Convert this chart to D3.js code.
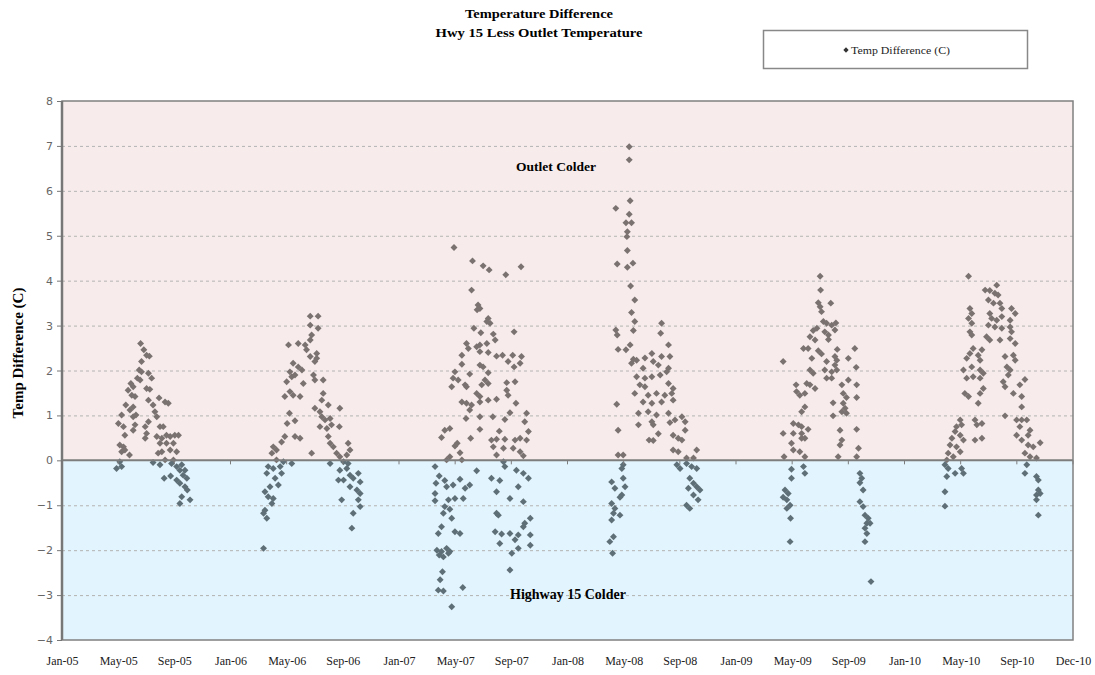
<!DOCTYPE html>
<html lang="en">
<head>
    <meta charset="utf-8">
    <script type="text/javascript" src="https://d3js.org/d3.v7.min.js"></script>
    <title>Temperature Difference</title>
    <style>body{margin:0;background:#fff;}</style>
</head>
<body>
<div class="chart"></div>
<script type="text/javascript">
    // axis labels
    var xLabels = ["Jan-05","May-05","Sep-05","Jan-06","May-06","Sep-06","Jan-07","May-07","Sep-07",
                   "Jan-08","May-08","Sep-08","Jan-09","May-09","Sep-09","Jan-10","May-10","Sep-10","Dec-10"];
    var yTicks = [-4,-3,-2,-1,0,1,2,3,4,5,6,7,8];
    var seriesName = "Temp Difference (C)";

    // [day of year, Hwy 15 minus outlet temperature (C)]
    var d2005 = [[170,2.60],[177,2.46],[183,2.34],[189,2.32],[172,2.20],[167,2.01],[172,1.97],[187,1.94],[194,1.83],[163,1.83],[169,1.79],[149,1.71],[154,1.64],[183,1.60],[190,1.58],[143,1.56],[151,1.45],[158,1.42],[210,1.39],[223,1.30],[230,1.27],[187,1.34],[197,1.23],[138,1.23],[147,1.12],[154,1.19],[201,1.08],[205,0.97],[129,1.01],[154,0.97],[160,1.01],[122,0.82],[133,0.75],[187,0.86],[212,0.75],[219,0.75],[158,0.79],[154,0.67],[180,0.75],[183,0.60],[180,0.49],[136,0.56],[205,0.53],[216,0.49],[226,0.56],[234,0.53],[244,0.56],[252,0.56],[125,0.34],[133,0.30],[129,0.19],[136,0.23],[212,0.38],[226,0.38],[241,0.38],[234,0.23],[208,0.16],[216,0.19],[248,0.19],[146,0.12],[223,0.01],[241,0.01],[125,-0.03],[197,-0.05],[212,-0.10],[118,-0.18],[129,-0.14],[237,-0.07],[248,-0.14],[259,-0.10],[255,-0.22],[266,-0.22],[262,-0.33],[270,-0.40],[221,-0.40],[235,-0.35],[248,-0.44],[255,-0.51],[266,-0.59],[271,-0.66],[259,-0.81],[277,-0.88],[255,-0.96]];
    var d2006 = [[172,3.21],[189,3.21],[172,3.01],[189,2.94],[175,2.79],[172,2.68],[125,2.57],[146,2.60],[161,2.57],[164,2.46],[186,2.38],[172,2.31],[182,2.20],[186,2.27],[135,2.16],[146,2.08],[154,2.01],[128,1.97],[132,1.86],[139,1.90],[179,1.90],[182,1.79],[200,1.79],[121,1.75],[157,1.71],[117,1.42],[128,1.53],[135,1.45],[150,1.42],[200,1.49],[197,1.34],[182,1.16],[193,1.08],[211,1.23],[236,1.16],[197,0.97],[204,0.90],[215,0.93],[127,1.05],[122,0.82],[139,0.88],[193,0.75],[208,0.71],[218,0.79],[235,0.75],[117,0.53],[110,0.41],[139,0.53],[150,0.49],[211,0.53],[215,0.38],[222,0.30],[92,0.30],[99,0.23],[89,0.16],[254,0.38],[258,0.23],[251,0.12],[175,0.16],[229,0.16],[236,0.08],[99,0.01],[114,-0.03],[132,-0.07],[215,-0.07],[244,-0.03],[254,-0.07],[81,-0.14],[92,-0.18],[78,-0.29],[107,-0.14],[110,-0.29],[236,-0.22],[251,-0.18],[258,-0.33],[233,-0.44],[244,-0.44],[265,-0.40],[276,-0.29],[280,-0.48],[96,-0.40],[103,-0.55],[85,-0.59],[258,-0.59],[273,-0.66],[280,-0.74],[74,-0.70],[81,-0.81],[92,-0.85],[89,-0.96],[240,-0.88],[276,-0.88],[280,-1.03],[74,-1.11],[71,-1.18],[78,-1.29],[265,-1.18],[262,-1.51],[71,-1.96]];
    var d2007 = [[118,4.74],[158,4.44],[181,4.33],[194,4.24],[230,4.13],[263,4.31],[156,3.79],[170,3.46],[174,3.38],[168,3.35],[192,3.16],[196,3.05],[189,3.09],[161,2.94],[176,2.84],[248,2.86],[203,2.81],[207,2.68],[145,2.60],[149,2.49],[167,2.53],[174,2.57],[189,2.60],[135,2.34],[174,2.42],[192,2.40],[210,2.32],[223,2.34],[245,2.34],[264,2.31],[235,2.20],[261,2.16],[248,2.08],[135,2.14],[174,2.12],[181,2.08],[120,1.97],[152,1.92],[192,1.95],[116,1.83],[127,1.79],[185,1.79],[142,1.68],[178,1.68],[192,1.71],[232,1.73],[250,1.75],[113,1.64],[145,1.64],[232,1.56],[235,1.45],[167,1.49],[174,1.42],[192,1.34],[135,1.30],[145,1.27],[156,1.23],[174,1.30],[210,1.36],[252,1.27],[152,1.12],[239,1.06],[275,1.05],[144,0.93],[174,0.97],[202,0.97],[228,0.91],[271,0.86],[279,0.64],[98,0.67],[109,0.71],[174,0.69],[216,0.65],[91,0.51],[154,0.49],[199,0.45],[210,0.47],[228,0.47],[250,0.45],[261,0.49],[275,0.45],[125,0.38],[120,0.32],[203,0.30],[225,0.27],[246,0.27],[131,0.17],[109,0.08],[210,0.12],[261,0.19],[268,0.10],[102,0.01],[135,0.01],[225,-0.03],[228,-0.14],[77,-0.14],[167,-0.23],[86,-0.35],[98,-0.45],[131,-0.42],[253,-0.22],[268,-0.29],[279,-0.40],[199,-0.40],[217,-0.45],[152,-0.55],[79,-0.51],[102,-0.59],[116,-0.55],[257,-0.59],[210,-0.70],[142,-0.62],[77,-0.74],[106,-0.88],[120,-0.85],[138,-0.85],[239,-0.85],[77,-0.90],[98,-1.03],[109,-1.09],[268,-0.92],[95,-1.18],[113,-1.29],[210,-1.18],[214,-1.22],[91,-1.48],[84,-1.63],[120,-1.59],[131,-1.63],[271,-1.40],[268,-1.48],[283,-1.29],[207,-1.59],[221,-1.64],[239,-1.63],[257,-1.66],[283,-1.66],[217,-1.85],[250,-1.77],[257,-1.96],[283,-1.89],[81,-2.00],[91,-2.03],[102,-1.96],[109,-2.03],[86,-2.11],[95,-2.15],[106,-2.07],[243,-2.07],[93,-2.48],[88,-2.66],[239,-2.44],[84,-2.89],[95,-2.91],[137,-2.83],[113,-3.26]];
    var d2008 = [[132,6.98],[132,6.69],[134,5.78],[103,5.61],[132,5.48],[125,5.29],[137,5.29],[128,5.09],[127,4.98],[128,4.67],[106,4.37],[128,4.30],[140,4.39],[135,3.88],[144,3.57],[137,3.29],[144,3.09],[202,3.05],[103,2.90],[106,2.79],[141,2.89],[200,2.83],[217,2.57],[134,2.57],[108,2.47],[125,2.46],[141,2.25],[148,2.23],[166,2.28],[181,2.38],[202,2.31],[220,2.31],[137,2.16],[162,2.05],[184,2.20],[195,2.12],[217,2.05],[148,1.86],[166,1.83],[181,1.86],[199,1.90],[213,1.97],[155,1.68],[166,1.64],[217,1.71],[227,1.60],[144,1.49],[173,1.45],[191,1.49],[209,1.45],[224,1.49],[162,1.30],[181,1.27],[202,1.30],[227,1.34],[105,1.25],[152,1.05],[173,1.08],[191,1.01],[217,1.05],[181,0.86],[184,0.79],[220,0.84],[231,0.90],[246,0.97],[253,0.86],[152,0.79],[108,0.67],[253,0.67],[195,0.59],[175,0.45],[184,0.44],[227,0.56],[238,0.49],[246,0.45],[227,0.23],[238,0.19],[278,0.23],[108,0.12],[119,0.12],[256,0.05],[271,0.05],[119,-0.10],[116,-0.18],[235,-0.10],[242,-0.18],[256,-0.07],[267,-0.14],[278,-0.18],[94,-0.48],[101,-0.62],[119,-0.40],[123,-0.59],[263,-0.40],[271,-0.51],[278,-0.59],[260,-0.62],[285,-0.66],[116,-0.77],[112,-0.82],[271,-0.77],[281,-0.88],[94,-0.96],[101,-1.07],[256,-1.00],[263,-1.07],[98,-1.18],[112,-1.22],[94,-1.33],[98,-1.70],[90,-1.81],[96,-2.07]];
    var d2009 = [[179,4.10],[180,3.79],[175,3.51],[179,3.42],[182,3.31],[202,3.50],[186,3.09],[193,3.05],[204,3.01],[213,3.06],[164,2.89],[172,2.94],[189,2.86],[197,2.79],[211,2.90],[157,2.75],[168,2.68],[197,2.69],[143,2.49],[153,2.49],[175,2.44],[216,2.47],[161,2.27],[182,2.37],[211,2.31],[99,2.20],[193,2.20],[215,2.23],[211,2.12],[240,2.27],[254,2.49],[157,2.01],[164,1.94],[189,2.01],[204,1.97],[215,2.01],[257,2.07],[150,1.71],[157,1.68],[168,1.60],[193,1.83],[204,1.83],[127,1.68],[128,1.53],[135,1.45],[146,1.49],[226,1.68],[240,1.79],[258,1.68],[229,1.49],[236,1.40],[258,1.40],[207,1.28],[229,1.27],[233,1.16],[226,1.08],[236,1.05],[139,1.08],[146,1.19],[207,0.99],[121,0.82],[132,0.79],[139,0.75],[99,0.60],[121,0.60],[139,0.60],[153,0.69],[258,0.69],[139,0.49],[146,0.49],[222,0.67],[226,0.45],[117,0.38],[121,0.23],[135,0.19],[222,0.34],[262,0.27],[101,0.08],[146,0.08],[218,0.08],[258,0.08],[117,-0.20],[143,-0.14],[146,-0.29],[117,-0.40],[265,-0.29],[269,-0.40],[103,-0.66],[110,-0.74],[99,-0.82],[107,-0.88],[265,-0.50],[272,-0.66],[114,-1.00],[107,-1.07],[265,-0.92],[272,-1.03],[115,-1.29],[276,-1.22],[283,-1.29],[280,-1.40],[276,-1.51],[280,-1.63],[287,-1.40],[114,-1.81],[276,-1.81],[289,-2.70]];
    var d2010 = [[135,4.10],[196,3.90],[171,3.79],[181,3.78],[192,3.72],[199,3.68],[138,3.38],[142,3.27],[135,3.16],[142,3.05],[138,2.86],[142,2.79],[178,3.57],[189,3.50],[203,3.50],[207,3.38],[228,3.38],[236,3.27],[181,3.27],[185,3.16],[196,3.12],[207,3.20],[225,3.12],[178,3.01],[192,2.97],[207,2.94],[225,2.97],[228,2.86],[174,2.75],[181,2.68],[203,2.68],[225,2.71],[236,2.60],[145,2.49],[164,2.46],[138,2.38],[131,2.27],[156,2.34],[160,2.23],[214,2.31],[232,2.34],[236,2.23],[124,2.01],[142,2.08],[160,2.01],[167,1.94],[218,2.08],[225,2.01],[221,1.90],[131,1.83],[145,1.86],[160,1.83],[210,1.75],[214,1.64],[257,1.80],[246,1.68],[127,1.49],[135,1.42],[160,1.49],[167,1.60],[232,1.49],[250,1.42],[156,1.27],[250,1.19],[214,0.99],[117,0.90],[120,0.79],[109,0.75],[149,0.90],[164,0.82],[153,0.79],[239,0.90],[250,0.90],[261,0.90],[246,0.75],[268,0.67],[106,0.64],[117,0.56],[99,0.49],[124,0.45],[149,0.45],[164,0.49],[239,0.56],[250,0.45],[264,0.56],[95,0.34],[109,0.30],[117,0.19],[264,0.34],[275,0.30],[290,0.39],[91,0.16],[102,0.08],[88,0.01],[257,0.16],[268,0.08],[282,0.05],[84,-0.10],[91,-0.18],[106,-0.29],[120,-0.18],[124,-0.29],[88,-0.36],[257,-0.29],[261,-0.10],[282,-0.36],[286,-0.44],[286,-0.66],[282,-0.77],[290,-0.74],[282,-0.88],[84,-0.70],[84,-1.02],[286,-1.22]];

    var years = [2005, 2006, 2007, 2008, 2009, 2010];
    var seasons = [d2005, d2006, d2007, d2008, d2009, d2010];

    // flatten to {date, v}
    var points = [];
    seasons.forEach(function(s, i){
        s.forEach(function(p){
            points.push({date: new Date(years[i], 0, 1 + p[0]), v: p[1]});
        });
    });

    // svg
    var width = 1095, height = 675;
    var svg = d3.select("div.chart").append("svg")
        .attr("width", width).attr("height", height)
        .style("font-family", "'Liberation Serif', 'Times New Roman', serif");

    var plot = {left: 62, top: 101, right: 1073, bottom: 640};

    // date axis: 18 steps of 121.5 days from Jan 1 2005
    var dayMs = 864e5, stepDays = 121.5;
    var t0 = new Date(2005, 0, 1);
    var xTicks = xLabels.map(function(d, i){ return new Date(+t0 + i * stepDays * dayMs); });
    var x = d3.scaleTime().domain([xTicks[0], xTicks[xTicks.length - 1]]).range([plot.left, plot.right]);
    var y = d3.scaleLinear().domain([-4, 8]).range([plot.bottom, plot.top]);

    // background bands
    svg.append("rect").attr("x", plot.left).attr("y", y(8))
        .attr("width", plot.right - plot.left).attr("height", y(0) - y(8)).attr("fill", "#f7eceb");
    svg.append("rect").attr("x", plot.left).attr("y", y(0))
        .attr("width", plot.right - plot.left).attr("height", y(-4) - y(0)).attr("fill", "#e2f4fd");

    // gridlines
    svg.append("g").selectAll("line")
        .data(yTicks.filter(function(d){ return d != -4 && d != 0 && d != 8; }))
        .enter().append("line")
        .attr("x1", plot.left).attr("x2", plot.right)
        .attr("y1", function(d){ return y(d) + 0.5; }).attr("y2", function(d){ return y(d) + 0.5; })
        .attr("stroke", "#b4b4b4").attr("stroke-dasharray", "3 3");

    // labels inside the bands
    svg.append("text").attr("x", 556).attr("y", 171).attr("text-anchor", "middle")
        .attr("font-size", 13.5).attr("font-weight", "bold").text("Outlet Colder");
    svg.append("text").attr("x", 568).attr("y", 599).attr("text-anchor", "middle")
        .attr("font-size", 14).attr("font-weight", "bold").text("Highway 15 Colder");

    // points
    var diamond = d3.symbol().type(d3.symbolSquare).size(24);
    svg.append("g").selectAll("path")
        .data(points)
        .enter().append("path")
        .attr("d", diamond)
        .attr("transform", function(d){ return "translate(" + x(d.date) + "," + y(d.v) + ") rotate(45)"; })
        .attr("fill", function(d){ return d.v >= 0 ? "#7a7271" : "#5f6f77"; });

    // zero line with date ticks
    svg.append("line").attr("x1", plot.left).attr("x2", plot.right)
        .attr("y1", y(0)).attr("y2", y(0)).attr("stroke", "#7d7d7d").attr("stroke-width", 2);
    svg.append("g").selectAll("line").data(xTicks).enter().append("line")
        .attr("x1", function(d){ return x(d); }).attr("x2", function(d){ return x(d); })
        .attr("y1", y(0)).attr("y2", y(0) + 4).attr("stroke", "#7d7d7d");

    // frame
    svg.append("rect").attr("x", plot.left).attr("y", plot.top)
        .attr("width", plot.right - plot.left).attr("height", plot.bottom - plot.top)
        .attr("fill", "none").attr("stroke", "#808080").attr("stroke-width", 1.5);
    svg.append("line").attr("x1", plot.left).attr("x2", plot.left)
        .attr("y1", plot.top).attr("y2", plot.bottom).attr("stroke", "#777").attr("stroke-width", 2.5);

    // y axis
    var yAxis = svg.append("g").attr("transform", "translate(" + plot.left + ",0)")
        .call(d3.axisLeft(y).tickValues(yTicks).tickSize(5).tickFormat(d3.format("d")));
    yAxis.select(".domain").remove();
    yAxis.selectAll("line").attr("stroke", "#777");
    yAxis.selectAll("text").attr("fill", "#666").attr("font-size", 11)
        .style("font-family", "'DejaVu Sans', Verdana, sans-serif").attr("x", -9);

    // x axis labels at the bottom
    var xAxis = svg.append("g").attr("transform", "translate(0," + plot.bottom + ")")
        .call(d3.axisBottom(x).tickValues(xTicks).tickSize(0)
            .tickFormat(function(d, i){ return xLabels[i]; }));
    xAxis.select(".domain").remove();
    xAxis.selectAll("text").attr("fill", "#222").attr("font-size", 12).attr("dy", "0")
        .attr("y", 25).style("font-family", "'Liberation Serif', 'Times New Roman', serif");

    svg.append("text")
        .attr("transform", "translate(23,353) rotate(-90)")
        .attr("text-anchor", "middle").attr("font-size", 15).attr("font-weight", "bold")
        .text(seriesName);

    // title
    svg.append("text").attr("x", 539).attr("y", 18).attr("text-anchor", "middle")
        .attr("font-size", 12).attr("font-weight", "bold")
        .attr("textLength", 148).attr("lengthAdjust", "spacingAndGlyphs").text("Temperature Difference");
    svg.append("text").attr("x", 539).attr("y", 37).attr("text-anchor", "middle")
        .attr("font-size", 12).attr("font-weight", "bold")
        .attr("textLength", 207).attr("lengthAdjust", "spacingAndGlyphs").text("Hwy 15 Less Outlet Temperature");

    // legend
    var legend = svg.append("g");
    legend.append("rect").attr("x", 763.5).attr("y", 30.5).attr("width", 264).attr("height", 38)
        .attr("fill", "#fff").attr("stroke", "#888").attr("stroke-width", 1.5);
    legend.append("path").attr("d", d3.symbol().type(d3.symbolSquare).size(14))
        .attr("transform", "translate(846,50) rotate(45)").attr("fill", "#333");
    legend.append("text").attr("x", 851).attr("y", 53.5).attr("font-size", 10.5)
        .attr("fill", "#222").attr("textLength", 99).attr("lengthAdjust", "spacingAndGlyphs").text(seriesName);
</script>
</body>
</html>
